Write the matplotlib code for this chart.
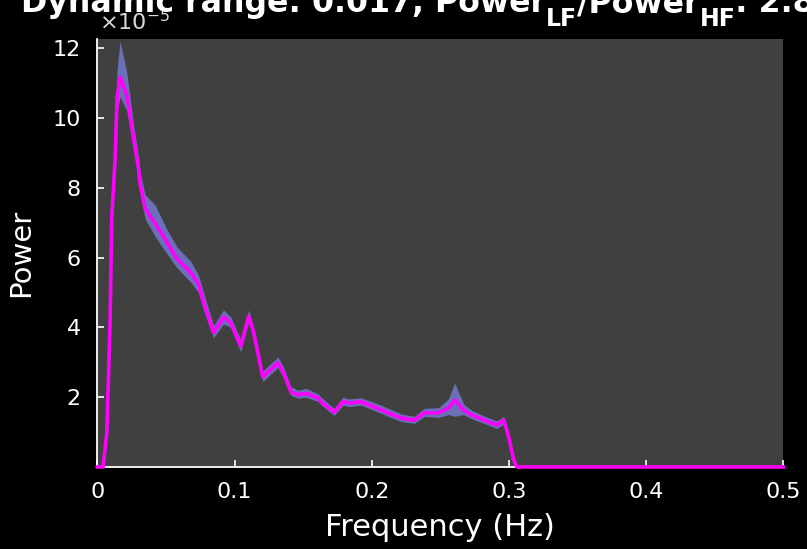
#!/usr/bin/env python3
"""Power spectrum with confidence band, dark MATLAB-like style."""
import matplotlib
matplotlib.use('Agg')
import matplotlib.pyplot as plt

# frequency (Hz) and power (x 1e-5)
FREQ = [0.0, 0.0042, 0.0069, 0.0093, 0.0105, 0.0130, 0.0144, 0.0166, 0.0215,
        0.0264, 0.0300, 0.0313, 0.0349, 0.0422, 0.0508, 0.0581, 0.0679, 0.0737,
        0.0774, 0.0847, 0.0920, 0.0972, 0.1045, 0.1103, 0.1140, 0.1206, 0.1316,
        0.1359, 0.1411, 0.1462, 0.1520, 0.1608, 0.1630, 0.1726, 0.1791, 0.1835,
        0.1923, 0.2018, 0.2121, 0.2216, 0.2311, 0.2384, 0.2487, 0.2560, 0.2604,
        0.2670, 0.2729, 0.2824, 0.2912, 0.2963, 0.2999, 0.3036, 0.3058, 0.5]
POWER = [0.0, 0.0, 0.97, 4.14, 7.11, 8.85, 10.58, 11.16, 10.67,
         9.43, 8.56, 8.08, 7.41, 6.97, 6.44, 5.96, 5.58, 5.24,
         4.72, 3.85, 4.29, 4.14, 3.46, 4.32, 3.85, 2.58, 2.98,
         2.69, 2.15, 2.07, 2.11, 1.98, 1.87, 1.57, 1.87, 1.83,
         1.87, 1.72, 1.55, 1.40, 1.34, 1.55, 1.55, 1.69, 1.92,
         1.63, 1.49, 1.34, 1.20, 1.34, 0.85, 0.19, 0.0, 0.0]
BAND_LO = [0.0, 0.0, 0.9, 4.0, 6.9, 8.6, 10.2, 10.6, 10.2,
           9.1, 8.3, 7.8, 7.1, 6.6, 6.1, 5.7, 5.3, 5.0,
           4.5, 3.7, 4.1, 4.0, 3.3, 4.15, 3.7, 2.45, 2.85,
           2.55, 2.05, 1.97, 2.0, 1.88, 1.78, 1.48, 1.77, 1.73,
           1.77, 1.62, 1.45, 1.30, 1.25, 1.45, 1.42, 1.50, 1.45,
           1.50, 1.38, 1.24, 1.10, 1.24, 0.78, 0.15, 0.0, 0.0]
BAND_HI = [0.0, 0.0, 1.05, 4.3, 7.4, 9.3, 11.4, 12.2, 11.3,
           9.8, 8.9, 8.4, 7.8, 7.5, 6.8, 6.3, 5.9, 5.5,
           5.0, 4.05, 4.5, 4.3, 3.65, 4.5, 4.0, 2.75, 3.15,
           2.85, 2.3, 2.2, 2.25, 2.1, 2.0, 1.68, 2.0, 1.95,
           1.98, 1.85, 1.68, 1.52, 1.45, 1.68, 1.70, 1.95, 2.41,
           1.80, 1.62, 1.45, 1.32, 1.45, 0.95, 0.25, 0.0, 0.0]
XTICKS = [0, 0.1, 0.2, 0.3, 0.4, 0.5]
XTICKLABELS = ['0', '0.1', '0.2', '0.3', '0.4', '0.5']
YTICKS = [2, 4, 6, 8, 10, 12]
SCALE = 1e-5

# title pieces: (text, is_subscript)
TITLE_PARTS = [('Dynamic range: 0.017, Power', False), ('LF', True),
               ('/Power', False), ('HF', True), (': 2.836', False)]
OUTPUT_PNG = 'out.png'

W, H = 807, 549


def draw_title(fig, center_px, base_px, size, sub_size, sub_drop):
    # MATLAB puts subscripts far below the baseline; lay the pieces out by hand
    r = fig.canvas.get_renderer()
    texts = []
    for s, sub in TITLE_PARTS:
        t = fig.text(0, 0, s, color='white', fontweight='bold',
                     fontsize=sub_size if sub else size, ha='left', va='baseline')
        texts.append((t, sub))
    widths = [t.get_window_extent(r).width for t, _ in texts]
    x = center_px - sum(widths) / 2
    for (t, sub), w in zip(texts, widths):
        y = base_px + (sub_drop if sub else 0)
        t.set_position((x / W, 1 - y / H))
        x += w


def plot():
    fig = plt.figure(figsize=(W / 100, H / 100), dpi=100, facecolor='black')
    ax = fig.add_axes([0.1206, 0.1494, 0.850, 0.7796])
    ax.set_facecolor('#404040')

    f = FREQ
    p = [v * SCALE for v in POWER]
    lo = [v * SCALE for v in BAND_LO]
    hi = [v * SCALE for v in BAND_HI]

    ax.fill_between(f, lo, hi, color='#6a6fb8', lw=0, zorder=2)
    ax.plot(f, p, color='#ff00ff', lw=2.6, zorder=5, clip_on=False,
            solid_joinstyle='round')

    ax.set_xlim(0, 0.5)
    ax.set_ylim(0, 12.26 * SCALE)
    ax.set_xticks(XTICKS)
    ax.set_xticklabels(XTICKLABELS)
    ax.set_yticks([t * SCALE for t in YTICKS])
    ax.set_yticklabels([str(t) for t in YTICKS])

    for side in ('top', 'right'):
        ax.spines[side].set_visible(False)
    for side in ('left', 'bottom'):
        ax.spines[side].set_color('white')
        ax.spines[side].set_linewidth(1.3)

    ax.tick_params(direction='in', colors='white', labelsize=16, length=5, width=1.2)
    ax.tick_params(axis='x', pad=11)
    ax.tick_params(axis='y', pad=12)

    ax.set_xlabel('Frequency (Hz)', color='white', fontsize=22, labelpad=8)
    ax.set_ylabel('Power', color='white', fontsize=21, labelpad=12)

    # exponent label, MATLAB style
    fig.text(99 / W, 1 - 30 / H, r'$\times10^{-5}$', color='#d8d8d8',
             fontsize=16, ha='left', va='baseline')

    draw_title(fig, 440, 12, 22.8, 17, 14)

    fig.savefig(OUTPUT_PNG, dpi=100, facecolor='black')
    return True


if __name__ == '__main__':
    plot()
